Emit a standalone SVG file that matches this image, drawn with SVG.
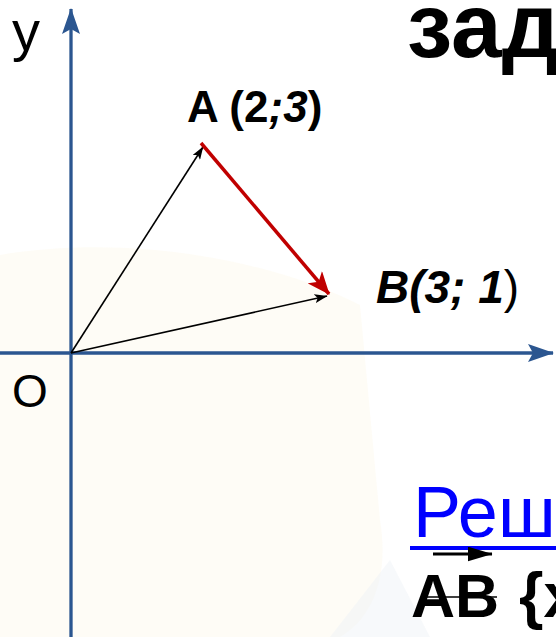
<svg xmlns="http://www.w3.org/2000/svg" width="556" height="637" viewBox="0 0 556 637">
  <defs>
    <style>
      .axis { stroke: #2b5690; stroke-width: 3.3; fill: none; }
      .vec { stroke: #000; stroke-width: 1.6; fill: none; }
      .red { stroke: #c00000; stroke-width: 3.5; fill: none; }
      .t { font-family: "Liberation Sans", Arial, sans-serif; fill: #000; }
      .b { font-weight: bold; }
    </style>
    <marker id="axisHead" viewBox="0 0 26 20" refX="25" refY="10" markerUnits="userSpaceOnUse" markerWidth="26" markerHeight="20" orient="auto">
      <path d="M0,1 L26,10 L0,19 L5,10 Z" fill="#2b5690"/>
    </marker>
    <marker id="blackHead" viewBox="0 0 13 9" refX="12.5" refY="4.5" markerUnits="userSpaceOnUse" markerWidth="13" markerHeight="9" orient="auto">
      <path d="M0,0 L13,4.5 L0,9 L3,4.5 Z" fill="#000"/>
    </marker>
    <marker id="vecHead" viewBox="0 0 25 15" refX="24.5" refY="7.5" markerUnits="userSpaceOnUse" markerWidth="25" markerHeight="15" orient="auto">
      <path d="M0,0 L25,7.5 L0,15 Z" fill="#000"/>
    </marker>
    <marker id="redHead" viewBox="0 0 23 19" refX="22" refY="9.5" markerUnits="userSpaceOnUse" markerWidth="23" markerHeight="19" orient="auto">
      <path d="M0,0 L23,9.5 L0,19 L6,9.5 Z" fill="#c00000"/>
    </marker>
  </defs>

  <rect width="556" height="637" fill="#ffffff"/>
  <g id="watermark">
    <path d="M0,255 C120,235 260,255 360,305 L380,520 C390,580 370,620 340,637 L0,637 Z" fill="#fdfaee" opacity="0.55"/>
    <path d="M330,637 L390,560 L430,637 Z" fill="#eef1f6" opacity="0.45"/>
  </g>

  <g id="connectors">
    <line id="y-axis" class="axis" x1="71" y1="637" x2="71" y2="9" marker-end="url(#axisHead)"/>
    <line id="x-axis" class="axis" x1="0" y1="353" x2="553" y2="353" marker-end="url(#axisHead)"/>
    <line id="OA" class="vec" x1="71" y1="353" x2="203" y2="147" marker-end="url(#blackHead)"/>
    <line id="OB" class="vec" x1="71" y1="353" x2="327" y2="296" marker-end="url(#blackHead)"/>
    <line id="AB" class="red" x1="201" y1="143" x2="329" y2="294" marker-end="url(#redHead)"/>
  </g>

  <g id="label-y"><text class="t" x="12" y="50" font-size="56">y</text></g>
  <g id="label-O"><text class="t" x="12" y="407" font-size="46">O</text></g>
  <g id="title"><text class="t b" x="407" y="57" font-size="91">зад</text></g>
  <g id="point-A"><text class="t b" x="187" y="122" font-size="44">A (2<tspan font-style="italic">;3</tspan>)</text></g>
  <g id="point-B"><text class="t b" x="376" y="303" font-size="46"><tspan font-style="italic">B(3; 1</tspan><tspan font-weight="normal">)</tspan></text></g>

  <g id="solution">
    <text x="413" y="537" font-family="Liberation Sans, Arial, sans-serif" font-size="72" fill="#0000ff">Реш</text>
    <line x1="410" y1="548" x2="556" y2="548" stroke="#0000ff" stroke-width="4"/>
  </g>
  <g id="vector-AB">
    <line x1="433" y1="554" x2="492" y2="554" stroke="#000" stroke-width="3" marker-end="url(#vecHead)"/>
    <text class="t b" x="411" y="617" font-size="61">AB</text>
    <line x1="425" y1="597" x2="497" y2="597" stroke="#000" stroke-width="1.5"/>
    <text class="t b" x="519" y="617" font-size="63">{x</text>
  </g>
</svg>
